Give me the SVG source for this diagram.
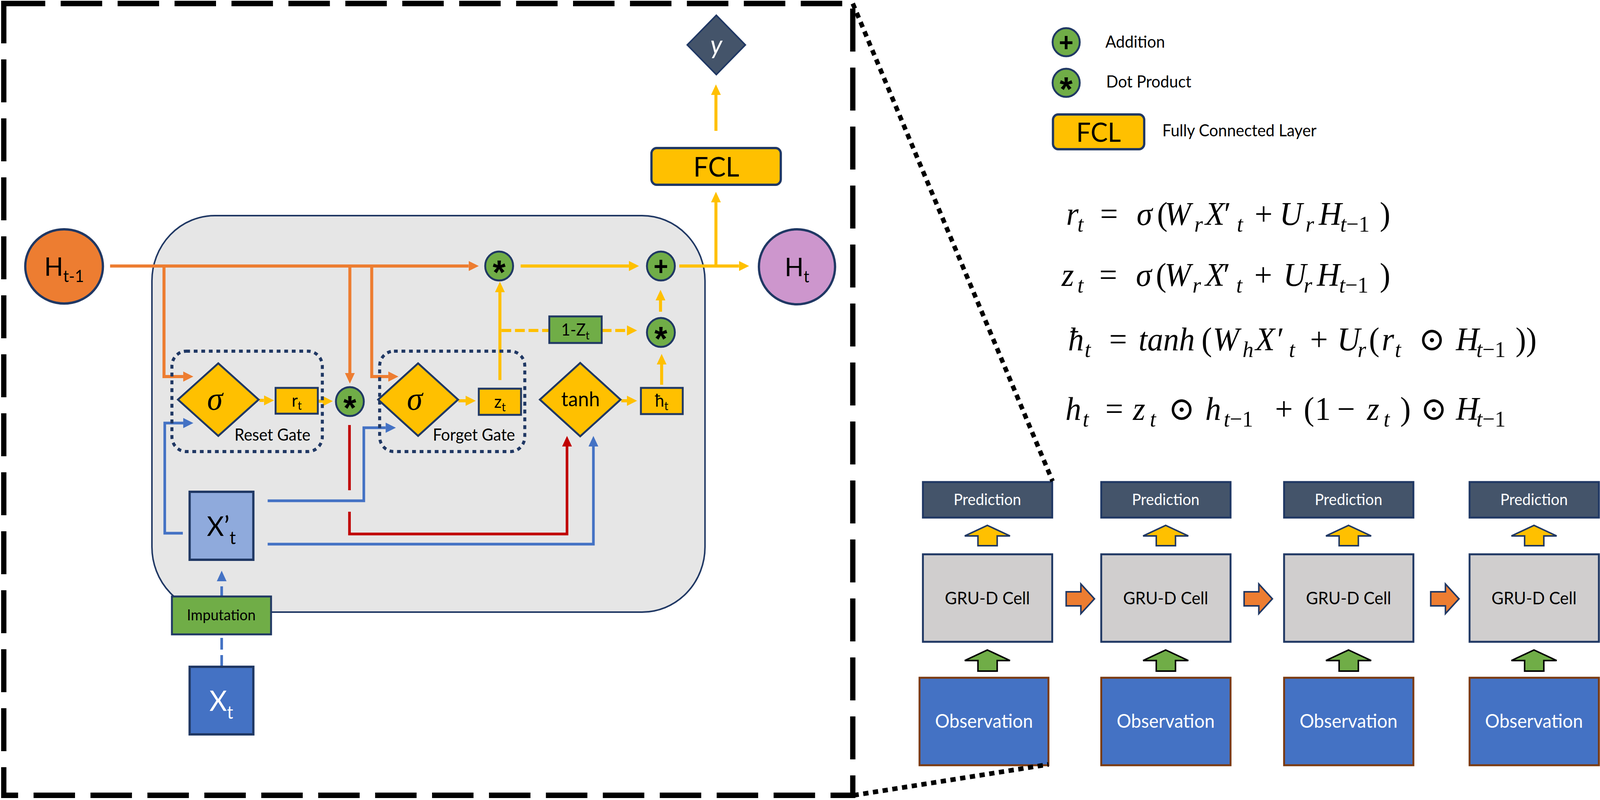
<svg xmlns="http://www.w3.org/2000/svg" width="4244" height="2048" viewBox="0 0 4244 2048">
<defs>
<style>
.t{font-family:Lato,'Liberation Sans',Arial,'DejaVu Sans',sans-serif;fill:#000}
.w{fill:#fff}
.m{font-family:'Liberation Serif','DejaVu Serif','DejaVu Sans',serif;font-size:84px;fill:#000}
.i{font-style:italic}
.s{font-size:58px}
.nd{stroke:#203864;stroke-width:5}
.op{fill:#70AD47;stroke:#203864;stroke-width:5}
.ylw{fill:#FFC000}
.c{fill:none;stroke-width:8}
.or{stroke:#ED7D31}
.ye{stroke:#FFC000}
.bl{stroke:#4472C4;stroke-width:7}
.rd{stroke:#C00000;stroke-width:7}
.gate{fill:none;stroke:#203864;stroke-width:8;stroke-dasharray:10 10}
.sym{font-family:'Liberation Sans',Arial,sans-serif;font-weight:bold;text-anchor:middle;fill:#000}
.ast{font-size:88px}
.pls{font-size:66px}
.pred{fill:#44546A;stroke:#203864;stroke-width:5}
.gru{fill:#D0CECE;stroke:#203864;stroke-width:5}
.obs{fill:#4472C4;stroke:#7B3A10;stroke-width:5}
.dot{fill:none;stroke:#000;stroke-width:12;stroke-dasharray:14 12}
</style>
<marker id="aO" markerUnits="userSpaceOnUse" markerWidth="27" markerHeight="26" refX="0" refY="13" orient="auto"><path d="M0,0L27,13L0,26z" fill="#ED7D31"/></marker>
<marker id="aY" markerUnits="userSpaceOnUse" markerWidth="27" markerHeight="26" refX="0" refY="13" orient="auto"><path d="M0,0L27,13L0,26z" fill="#FFC000"/></marker>
<marker id="aB" markerUnits="userSpaceOnUse" markerWidth="27" markerHeight="26" refX="0" refY="13" orient="auto"><path d="M0,0L27,13L0,26z" fill="#4472C4"/></marker>
<marker id="aR" markerUnits="userSpaceOnUse" markerWidth="27" markerHeight="26" refX="0" refY="13" orient="auto"><path d="M0,0L27,13L0,26z" fill="#C00000"/></marker>
</defs>
<rect width="4244" height="2048" fill="#fff"/>
<g transform="scale(0.96513,1)">

<g id="frame">
<rect x="10" y="9" width="2252" height="2027" fill="none" stroke="#000" stroke-width="14" stroke-dasharray="110 41"/>
</g>

<g id="cell">
<rect x="403" y="552" width="1467" height="1015" rx="167" fill="#E6E6E6" stroke="#203864" stroke-width="4"/>
</g>

<g id="connectors">
<path class="c or" d="M292,681H1243" marker-end="url(#aO)"/>
<path class="c or" d="M435,681V964H486" marker-end="url(#aO)"/>
<path class="c or" d="M928,681V955" marker-end="url(#aO)"/>
<path class="c or" d="M986,681V964H1030" marker-end="url(#aO)"/>
<path class="c ye" d="M1381,681H1668" marker-end="url(#aY)"/>
<path class="c ye" d="M1802,681H1960" marker-end="url(#aY)"/>
<path class="c ye" d="M1899,681V518" marker-end="url(#aY)"/>
<path class="c ye" d="M1899,335V243" marker-end="url(#aY)"/>
<path class="c ye" d="M1326,973V748" marker-end="url(#aY)"/>
<path class="c ye" d="M1330,846H1457" stroke-dasharray="26 10"/>
<path class="c ye" d="M1596,846H1663" stroke-dasharray="26 10" marker-end="url(#aY)"/>
<path class="c ye" d="M1752,798V769" marker-end="url(#aY)"/>
<path class="c ye" d="M1755,985V933" marker-end="url(#aY)"/>
<path class="c ye" d="M688,1025H700" marker-end="url(#aY)"/>
<path class="c ye" d="M845,1027H856" marker-end="url(#aY)"/>
<path class="c ye" d="M1216,1026H1235" marker-end="url(#aY)"/>
<path class="c ye" d="M1648,1026H1663" marker-end="url(#aY)"/>
<path class="c bl" d="M485,1365H437V1083H486" marker-end="url(#aB)"/>
<path class="c bl" d="M710,1282H965V1095H1023" marker-end="url(#aB)"/>
<path class="c bl" d="M710,1393H1574V1143" marker-end="url(#aB)"/>
<path class="c bl" d="M588,1707V1488" stroke-dasharray="30 14" marker-end="url(#aB)"/>
<path class="c rd" d="M927,1088V1255"/>
<path class="c rd" d="M927,1310V1367H1504V1143" marker-end="url(#aR)"/>
</g>

<g id="reset-gate">
<rect class="gate" x="456" y="899" width="399" height="257" rx="38"/>
<text class="t" x="622" y="1128" font-size="42">Reset Gate</text>
</g>
<g id="forget-gate">
<rect class="gate" x="1007" y="899" width="385" height="257" rx="38"/>
<text class="t" x="1148" y="1128" font-size="42">Forget Gate</text>
</g>

<g id="h-prev">
<ellipse cx="170" cy="682" rx="103" ry="95" fill="#ED7D31" stroke="#203864" stroke-width="6"/>
<text class="t" x="170" y="706" font-size="66" text-anchor="middle">H<tspan font-size="42" dy="16">t-1</tspan></text>
</g>
<g id="h-t">
<ellipse cx="2114" cy="683" rx="101" ry="96" fill="#CD96CD" stroke="#203864" stroke-width="6"/>
<text class="t" x="2114" y="707" font-size="66" text-anchor="middle">H<tspan font-size="42" dy="16">t</tspan></text>
</g>
<g id="mul-h">
<circle class="op" cx="1324" cy="681" r="37"/>
<text class="sym ast" x="1324" y="727">*</text>
</g>
<g id="add">
<circle class="op" cx="1753" cy="681" r="37"/>
<text class="sym pls" x="1753" y="704">+</text>
</g>
<g id="mul-1z">
<circle class="op" cx="1753" cy="851" r="37"/>
<text class="sym ast" x="1753" y="897">*</text>
</g>
<g id="mul-r">
<circle class="op" cx="928" cy="1028" r="37"/>
<text class="sym ast" x="928" y="1074">*</text>
</g>
<g id="sigma-r">
<polygon class="ylw nd" points="472,1023 579,930 686,1023 579,1116"/>
<text class="m i" x="570" y="1049" text-anchor="middle">σ</text>
</g>
<g id="r-t">
<rect class="ylw nd" x="731" y="993" width="112" height="66"/>
<text class="t" x="787" y="1041" font-size="44" text-anchor="middle">r<tspan font-size="30" dy="8">t</tspan></text>
</g>
<g id="sigma-z">
<polygon class="ylw nd" points="1003,1023 1109,930 1215,1023 1109,1116"/>
<text class="m i" x="1100" y="1049" text-anchor="middle">σ</text>
</g>
<g id="z-t">
<rect class="ylw nd" x="1270" y="995" width="112" height="67"/>
<text class="t" x="1326" y="1044" font-size="44" text-anchor="middle">z<tspan font-size="30" dy="9">t</tspan></text>
</g>
<g id="tanh">
<polygon class="ylw nd" points="1432,1023 1539,929 1646,1023 1539,1117"/>
<text class="t" x="1540" y="1040" font-size="52" text-anchor="middle">tanh</text>
</g>
<g id="hbar-t">
<rect class="ylw nd" x="1700" y="993" width="111" height="67"/>
<text class="t" x="1755" y="1041" font-size="44" text-anchor="middle">ħ<tspan font-size="30" dy="9">t</tspan></text>
</g>
<g id="one-minus-z">
<rect class="nd" fill="#70AD47" x="1457" y="810" width="139" height="68"/>
<text class="t" x="1526" y="859" font-size="42" text-anchor="middle">1-Z<tspan font-size="28" dy="10">t</tspan></text>
</g>
<g id="fcl">
<rect class="ylw" x="1728" y="379" width="343" height="94" rx="14" stroke="#203864" stroke-width="6"/>
<text class="t" x="1900" y="452" font-size="70" text-anchor="middle">FCL</text>
</g>
<g id="y-out">
<polygon points="1823,115 1900,39 1977,115 1900,191" fill="#44546A" stroke="#203864" stroke-width="4"/>
<text class="t w i" x="1900" y="138" font-size="66" text-anchor="middle">y</text>
</g>
<g id="x-prime">
<rect x="503" y="1259" width="169" height="174" fill="#8FAADC" stroke="#203864" stroke-width="6"/>
<text class="t" x="587" y="1372" font-size="70" text-anchor="middle">X’<tspan font-size="46" dy="21">t</tspan></text>
</g>
<g id="imputation">
<rect x="456" y="1527" width="263" height="97" fill="#70AD47" stroke="#203864" stroke-width="5"/>
<text class="t" x="587" y="1588" font-size="38" text-anchor="middle">Imputation</text>
</g>
<g id="x-t">
<rect x="503" y="1707" width="169" height="173" fill="#4472C4" stroke="#203864" stroke-width="6"/>
<text class="t w" x="587" y="1820" font-size="72" text-anchor="middle">X<tspan font-size="46" dy="20">t</tspan></text>
</g>

<g id="legend">
<g id="legend-add">
<circle class="op" cx="2828" cy="108" r="36"/>
<text class="sym pls" x="2828" y="131">+</text>
<text class="t" x="2932" y="122" font-size="42">Addition</text>
</g>
<g id="legend-dot">
<circle class="op" cx="2828" cy="212" r="36"/>
<text class="sym ast" x="2828" y="258">*</text>
<text class="t" x="2934" y="224" font-size="42">Dot Product</text>
</g>
<g id="legend-fcl">
<rect class="ylw" x="2793" y="293" width="242" height="89" rx="14" stroke="#203864" stroke-width="6"/>
<text class="t" x="2914" y="363" font-size="68" text-anchor="middle">FCL</text>
<text class="t" x="3083" y="349" font-size="42">Fully Connected Layer</text>
</g>
</g>

<g id="equations">
<text class="m">
<tspan class="i" x="2828" y="576">r</tspan><tspan class="i s" x="2858" y="593">t</tspan><tspan x="2918" y="576">=</tspan><tspan class="i" x="3015" y="576">σ</tspan><tspan x="3069" y="576">(</tspan><tspan class="i" x="3089" y="576">W</tspan><tspan class="i s" x="3168" y="593">r</tspan><tspan class="i" x="3197" y="576">X</tspan><tspan x="3247" y="576">′</tspan><tspan class="i s" x="3281" y="593">t</tspan><tspan x="3328" y="576">+</tspan><tspan class="i" x="3394" y="576">U</tspan><tspan class="i s" x="3463" y="593">r</tspan><tspan class="i" x="3498" y="576">H</tspan><tspan class="s" x="3555" y="593"><tspan class="i">t</tspan>−1</tspan><tspan x="3660" y="576">)</tspan>
</text>
<text class="m">
<tspan class="i" x="2816" y="732">z</tspan><tspan class="i s" x="2858" y="749">t</tspan><tspan x="2916" y="732">=</tspan><tspan class="i" x="3013" y="732">σ</tspan><tspan x="3066" y="732">(</tspan><tspan class="i" x="3089" y="732">W</tspan><tspan class="i s" x="3163" y="749">r</tspan><tspan class="i" x="3197" y="732">X</tspan><tspan x="3245" y="732">′</tspan><tspan class="i s" x="3279" y="749">t</tspan><tspan x="3327" y="732">+</tspan><tspan class="i" x="3404" y="732">U</tspan><tspan class="i s" x="3458" y="749">r</tspan><tspan class="i" x="3493" y="732">H</tspan><tspan class="s" x="3552" y="749"><tspan class="i">t</tspan>−1</tspan><tspan x="3660" y="732">)</tspan>
</text>
<text class="m">
<tspan class="i" x="2833" y="897">ħ</tspan><tspan class="i s" x="2877" y="914">t</tspan><tspan x="2942" y="897">=</tspan><tspan class="i" x="3020" y="897">tanh</tspan><tspan x="3187" y="897">(</tspan><tspan class="i" x="3217" y="897">W</tspan><tspan class="i s" x="3296" y="914">h</tspan><tspan class="i" x="3330" y="897">X</tspan><tspan x="3388" y="897">′</tspan><tspan class="i s" x="3419" y="914">t</tspan><tspan x="3475" y="897">+</tspan><tspan class="i" x="3547" y="897">U</tspan><tspan class="i s" x="3601" y="914">r</tspan><tspan x="3631" y="897">(</tspan><tspan class="i" x="3665" y="897">r</tspan><tspan class="i s" x="3700" y="914">t</tspan><tspan x="3763" y="897">⊙</tspan><tspan class="i" x="3862" y="897">H</tspan><tspan class="s" x="3916" y="914"><tspan class="i">t</tspan>−1</tspan><tspan x="4020" y="897">))</tspan>
</text>
<text class="m">
<tspan class="i" x="2826" y="1075">h</tspan><tspan class="i s" x="2872" y="1092">t</tspan><tspan x="2932" y="1075">=</tspan><tspan class="i" x="3005" y="1075">z</tspan><tspan class="i s" x="3050" y="1092">t</tspan><tspan x="3099" y="1075">⊙</tspan><tspan class="i" x="3197" y="1075">h</tspan><tspan class="s" x="3246" y="1092"><tspan class="i">t</tspan>−1</tspan><tspan x="3382" y="1075">+</tspan><tspan x="3458" y="1075">(</tspan><tspan x="3488" y="1075">1</tspan><tspan x="3547" y="1075">−</tspan><tspan class="i" x="3626" y="1075">z</tspan><tspan class="i s" x="3670" y="1092">t</tspan><tspan x="3714" y="1075">)</tspan><tspan x="3768" y="1075">⊙</tspan><tspan class="i" x="3862" y="1075">H</tspan><tspan class="s" x="3916" y="1092"><tspan class="i">t</tspan>−1</tspan>
</text>
</g>

<g id="col1">
<rect class="pred" x="2448" y="1234" width="343" height="91"/>
<text class="t w" x="2619" y="1293" font-size="40" text-anchor="middle">Prediction</text>
<path d="M2619,1345L2679,1372H2645V1397H2594V1372H2559Z" fill="#FFC000" stroke="#203864" stroke-width="4"/>
<rect class="gru" x="2448" y="1419" width="343" height="224"/>
<text class="t" x="2619" y="1547" font-size="44" text-anchor="middle">GRU-D Cell</text>
<path d="M2619,1664L2679,1691H2645V1718H2594V1691H2559Z" fill="#70AD47" stroke="#000" stroke-width="4"/>
<rect class="obs" x="2439" y="1735" width="342" height="224"/>
<text class="t w" x="2610" y="1863" font-size="48" text-anchor="middle">Observation</text>
</g>
<g id="col2">
<rect class="pred" x="2921" y="1234" width="343" height="91"/>
<text class="t w" x="3092" y="1293" font-size="40" text-anchor="middle">Prediction</text>
<path d="M3092,1345L3152,1372H3118V1397H3067V1372H3032Z" fill="#FFC000" stroke="#203864" stroke-width="4"/>
<rect class="gru" x="2921" y="1419" width="343" height="224"/>
<text class="t" x="3092" y="1547" font-size="44" text-anchor="middle">GRU-D Cell</text>
<path d="M3092,1664L3152,1691H3118V1718H3067V1691H3032Z" fill="#70AD47" stroke="#000" stroke-width="4"/>
<rect class="obs" x="2921" y="1735" width="343" height="224"/>
<text class="t w" x="3092" y="1863" font-size="48" text-anchor="middle">Observation</text>
</g>
<g id="col3">
<rect class="pred" x="3406" y="1234" width="343" height="91"/>
<text class="t w" x="3577" y="1293" font-size="40" text-anchor="middle">Prediction</text>
<path d="M3577,1345L3637,1372H3603V1397H3552V1372H3517Z" fill="#FFC000" stroke="#203864" stroke-width="4"/>
<rect class="gru" x="3406" y="1419" width="343" height="224"/>
<text class="t" x="3577" y="1547" font-size="44" text-anchor="middle">GRU-D Cell</text>
<path d="M3577,1664L3637,1691H3603V1718H3552V1691H3517Z" fill="#70AD47" stroke="#000" stroke-width="4"/>
<rect class="obs" x="3406" y="1735" width="343" height="224"/>
<text class="t w" x="3577" y="1863" font-size="48" text-anchor="middle">Observation</text>
</g>
<g id="col4">
<rect class="pred" x="3898" y="1234" width="343" height="91"/>
<text class="t w" x="4069" y="1293" font-size="40" text-anchor="middle">Prediction</text>
<path d="M4069,1345L4129,1372H4095V1397H4044V1372H4009Z" fill="#FFC000" stroke="#203864" stroke-width="4"/>
<rect class="gru" x="3898" y="1419" width="343" height="224"/>
<text class="t" x="4069" y="1547" font-size="44" text-anchor="middle">GRU-D Cell</text>
<path d="M4069,1664L4129,1691H4095V1718H4044V1691H4009Z" fill="#70AD47" stroke="#000" stroke-width="4"/>
<rect class="obs" x="3898" y="1735" width="343" height="224"/>
<text class="t w" x="4069" y="1863" font-size="48" text-anchor="middle">Observation</text>
</g>
<g id="seq-arrows">
<path d="M2828,1515H2867V1495L2903,1533L2867,1571V1551H2828Z" fill="#ED7D31" stroke="#203864" stroke-width="4"/>
<path d="M3300,1515H3339V1495L3375,1533L3339,1571V1551H3300Z" fill="#ED7D31" stroke="#203864" stroke-width="4"/>
<path d="M3795,1515H3834V1495L3870,1533L3834,1571V1551H3795Z" fill="#ED7D31" stroke="#203864" stroke-width="4"/>
</g>

<g id="zoom-lines">
<path class="dot" d="M2262,9L2792,1232"/>
<path class="dot" d="M2264,2036L2781,1957"/>
</g>
</g>
</svg>
